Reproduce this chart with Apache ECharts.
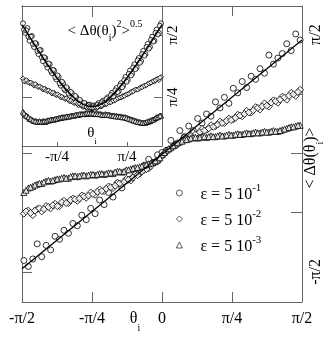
<!DOCTYPE html>
<html>
<head>
<meta charset="utf-8">
<title>theta_i</title>
<script src="https://cdn.jsdelivr.net/npm/echarts@6/dist/echarts.min.js"></script>
<style>
  html, body { margin: 0; padding: 0; background: #fff; }
  #chart { width: 332px; height: 341px; }
</style>
</head>
<body>
<div id="chart"></div>
<script>
var PI = Math.PI;

// x positions of the points (theta_i), two interleaved sets
var xs = [-1.55,-1.50,-1.45,-1.40,-1.35,-1.30,-1.25,-1.20,-1.15,-1.10,-1.05,-1.00,-0.95,-0.90,-0.85,-0.80,
  -0.75,-0.70,-0.65,-0.60,-0.55,-0.50,-0.45,-0.40,-0.35,-0.30,-0.25,-0.20,-0.15,-0.10,-0.05,0.00,
  0.05,0.10,0.15,0.20,0.25,0.30,0.35,0.40,0.45,0.50,0.55,0.60,0.65,0.70,0.75,0.80,
  0.85,0.90,0.95,1.00,1.05,1.10,1.15,1.20,1.25,1.30,1.35,1.40,1.45,1.50,1.55];
var xs2 = [-1.525,-1.475,-1.425,-1.375,-1.325,-1.275,-1.225,-1.175,-1.125,-1.075,-1.025,-0.975,-0.925,-0.875,-0.825,-0.775,
  -0.725,-0.675,-0.625,-0.575,-0.525,-0.475,-0.425,-0.375,-0.325,-0.275,-0.225,-0.175,-0.125,-0.075,-0.025,
  0.025,0.075,0.125,0.175,0.225,0.275,0.325,0.375,0.425,0.475,0.525,0.575,0.625,0.675,0.725,
  0.775,0.825,0.875,0.925,0.975,1.025,1.075,1.125,1.175,1.225,1.275,1.325,1.375,1.425,1.475,1.525];

// main plot  <dtheta(theta_i)>
var mainEps1 = [-1.42,-1.50,-1.40,-1.20,-1.37,-1.22,-1.28,-1.10,-1.14,-1.02,-1.06,-0.93,-0.96,-0.82,-0.88,-0.73,
  -0.80,-0.62,-0.68,-0.52,-0.58,-0.40,-0.46,-0.36,-0.34,-0.22,-0.26,-0.16,-0.08,-0.12,-0.02,0.01,
  0.04,0.17,0.10,0.30,0.22,0.36,0.30,0.46,0.40,0.52,0.49,0.68,0.60,0.74,0.66,0.86,
  0.80,0.95,0.87,1.02,0.98,1.12,1.06,1.30,1.18,1.26,1.32,1.45,1.36,1.58,1.50];
var mainEps2 = [-0.80,-0.76,-0.82,-0.74,-0.77,-0.70,-0.73,-0.67,-0.70,-0.63,-0.66,-0.60,-0.63,-0.56,-0.59,-0.52,
  -0.55,-0.48,-0.50,-0.44,-0.46,-0.39,-0.41,-0.34,-0.36,-0.28,-0.27,-0.22,-0.20,-0.13,-0.11,-0.03,
  0.02,0.06,0.12,0.14,0.21,0.20,0.27,0.26,0.32,0.31,0.37,0.36,0.42,0.40,0.46,0.45,
  0.51,0.49,0.56,0.54,0.61,0.58,0.66,0.62,0.70,0.67,0.75,0.71,0.80,0.76,0.84];
var mainEps2b = [-0.77,-0.79,-0.76,-0.73,-0.74,-0.71,-0.69,-0.70,-0.65,-0.66,-0.62,-0.61,-0.60,-0.57,-0.56,-0.54,
  -0.51,-0.50,-0.47,-0.45,-0.43,-0.40,-0.38,-0.35,-0.32,-0.29,-0.24,-0.21,-0.17,-0.12,-0.07,
  -0.01,0.05,0.09,0.13,0.17,0.19,0.23,0.25,0.28,0.30,0.33,0.35,0.38,0.40,0.43,
  0.44,0.47,0.50,0.52,0.54,0.57,0.60,0.62,0.63,0.67,0.69,0.71,0.74,0.76,0.78,0.81];
var mainEps3 = [-0.52,-0.46,-0.44,-0.41,-0.40,-0.37,-0.37,-0.35,-0.34,-0.32,-0.33,-0.30,-0.31,-0.29,-0.30,-0.28,
  -0.29,-0.27,-0.28,-0.26,-0.27,-0.24,-0.25,-0.22,-0.21,-0.19,-0.18,-0.16,-0.14,-0.12,-0.09,-0.02,
  0.04,0.08,0.12,0.15,0.18,0.19,0.21,0.20,0.22,0.21,0.23,0.22,0.24,0.23,0.25,0.24,
  0.26,0.25,0.27,0.26,0.28,0.27,0.29,0.28,0.30,0.29,0.31,0.33,0.35,0.36,0.37];
var mainEps3b = [-0.49,-0.45,-0.42,-0.40,-0.38,-0.36,-0.36,-0.34,-0.33,-0.33,-0.31,-0.30,-0.30,-0.29,-0.29,-0.28,
  -0.28,-0.27,-0.27,-0.26,-0.25,-0.24,-0.24,-0.22,-0.20,-0.19,-0.17,-0.15,-0.13,-0.10,-0.06,
  0.01,0.06,0.10,0.14,0.16,0.18,0.20,0.21,0.21,0.22,0.22,0.22,0.23,0.23,0.24,
  0.24,0.25,0.25,0.26,0.26,0.27,0.27,0.28,0.28,0.29,0.29,0.30,0.32,0.34,0.35,0.37];
var mainFitX = [-1.571, 1.571];
var mainFitY = [-1.53, 1.50];

// inset  <dtheta(theta_i)^2>^0.5
var insetEps1 = [1.72,1.60,1.66,1.50,1.56,1.42,1.46,1.33,1.38,1.24,1.28,1.16,1.20,1.09,1.12,1.01,
  1.04,0.93,0.96,0.87,0.89,0.80,0.83,0.75,0.78,0.70,0.73,0.67,0.70,0.65,0.69,0.64,
  0.68,0.65,0.71,0.67,0.74,0.70,0.78,0.75,0.84,0.80,0.90,0.86,0.96,0.93,1.04,1.00,
  1.12,1.08,1.20,1.16,1.28,1.24,1.37,1.33,1.46,1.42,1.55,1.50,1.64,1.60,1.72];
var insetEps1b = [1.64,1.63,1.55,1.55,1.46,1.47,1.37,1.38,1.29,1.29,1.20,1.21,1.12,1.13,1.04,1.06,
  0.96,0.98,0.89,0.91,0.83,0.85,0.77,0.80,0.72,0.75,0.69,0.71,0.66,0.68,0.65,
  0.67,0.66,0.69,0.68,0.72,0.71,0.76,0.74,0.81,0.79,0.87,0.85,0.93,0.91,1.00,
  0.98,1.08,1.06,1.16,1.14,1.25,1.22,1.33,1.31,1.42,1.40,1.51,1.49,1.60,1.58,1.69];
var insetEps2 = [1.02,0.98,0.99,0.96,0.96,0.93,0.94,0.91,0.91,0.88,0.89,0.86,0.86,0.83,0.84,0.81,
  0.81,0.78,0.78,0.76,0.76,0.73,0.73,0.71,0.71,0.68,0.69,0.66,0.67,0.65,0.66,0.64,
  0.66,0.65,0.67,0.67,0.69,0.69,0.71,0.72,0.73,0.74,0.76,0.77,0.78,0.80,0.81,0.82,
  0.84,0.85,0.87,0.88,0.89,0.91,0.92,0.93,0.95,0.96,0.98,0.98,1.01,1.00,1.04];
var insetEps2b = [0.99,1.00,0.97,0.97,0.95,0.95,0.92,0.92,0.90,0.89,0.87,0.87,0.85,0.84,0.82,0.82,
  0.80,0.79,0.77,0.77,0.75,0.74,0.72,0.72,0.70,0.70,0.68,0.67,0.66,0.66,0.65,
  0.65,0.66,0.66,0.68,0.68,0.70,0.70,0.72,0.72,0.74,0.75,0.77,0.78,0.79,0.80,
  0.82,0.83,0.85,0.86,0.88,0.88,0.90,0.91,0.93,0.94,0.96,0.97,0.99,1.00,1.02,1.03];
var insetEps3 = [0.60,0.56,0.54,0.51,0.50,0.48,0.48,0.47,0.47,0.48,0.47,0.49,0.49,0.50,0.50,0.51,
  0.52,0.52,0.53,0.53,0.54,0.54,0.55,0.55,0.56,0.56,0.57,0.57,0.58,0.57,0.58,0.58,
  0.57,0.58,0.57,0.57,0.56,0.57,0.56,0.56,0.55,0.55,0.55,0.54,0.54,0.53,0.53,0.52,
  0.51,0.50,0.49,0.48,0.47,0.46,0.46,0.46,0.47,0.48,0.50,0.51,0.53,0.54,0.55];
var insetEps3b = [0.58,0.55,0.53,0.51,0.49,0.48,0.47,0.48,0.47,0.48,0.48,0.49,0.50,0.50,0.51,0.51,
  0.52,0.53,0.53,0.54,0.54,0.55,0.55,0.56,0.56,0.57,0.57,0.57,0.58,0.58,0.58,
  0.58,0.57,0.57,0.57,0.56,0.56,0.56,0.56,0.55,0.55,0.54,0.54,0.54,0.53,0.53,
  0.52,0.51,0.50,0.49,0.48,0.47,0.47,0.46,0.46,0.47,0.48,0.49,0.50,0.52,0.53,0.55];
var insetFitX = [-1.57,-1.50,-1.40,-1.30,-1.20,-1.10,-1.00,-0.90,-0.80,-0.70,-0.60,-0.50,-0.40,-0.30,-0.20,-0.10,0.00,
  0.10,0.20,0.30,0.40,0.50,0.60,0.70,0.80,0.90,1.00,1.10,1.20,1.30,1.40,1.50,1.57];
var insetFitY = [1.70,1.64,1.55,1.46,1.37,1.285,1.20,1.12,1.04,0.964,0.894,0.831,0.775,0.728,0.693,0.671,0.663,
  0.671,0.693,0.728,0.775,0.831,0.894,0.964,1.04,1.12,1.20,1.285,1.37,1.46,1.55,1.64,1.70];

// tick values / labels
var piTicks = [-PI/2, -PI/4, 0, PI/4, PI/2];
var piLabels = ['-π/2', '-π/4', '0', 'π/4', 'π/2'];
var legendSup = ['-1', '-2', '-3'];
var seriesNames = ['eps1', 'eps2', 'eps3'];
var symbols = ['circle', 'diamond', 'triangle'];

function piLabel(v) {
  var k = Math.round(v / (PI / 4)) + 2;
  return piLabels[k] || '';
}
function pairs(xv, yv) {
  return xv.map(function (x, i) { return [x, yv[i]]; });
}

var FONT = 'Liberation Serif';
var chart = echarts.init(document.getElementById('chart'));

function axis(o) {
  var base = {
    min: -PI / 2, max: PI / 2,
    axisLine: { show: true, onZero: false, lineStyle: { color: '#666', width: 1 } },
    splitLine: { show: false },
    axisTick: { inside: true, length: 10, lineStyle: { color: '#666' } },
    axisLabel: { show: false, formatter: piLabel, color: '#000', fontFamily: FONT, fontSize: 16 }
  };
  for (var k in o) {
    if (typeof o[k] === 'object' && base[k] && !Array.isArray(o[k])) {
      for (var j in o[k]) base[k][j] = o[k][j];
    } else base[k] = o[k];
  }
  return base;
}

var mainData = [pairs(xs, mainEps1), pairs(xs, mainEps2).concat(pairs(xs2, mainEps2b)),
  pairs(xs, mainEps3).concat(pairs(xs2, mainEps3b))];
var insetData = [pairs(xs, insetEps1).concat(pairs(xs2, insetEps1b)),
  pairs(xs, insetEps2).concat(pairs(xs2, insetEps2b)),
  pairs(xs, insetEps3).concat(pairs(xs2, insetEps3b))];
var series = [];
mainData.forEach(function (d, i) {
  series.push({
    name: seriesNames[i], type: 'scatter', xAxisIndex: 0, yAxisIndex: 0,
    symbol: symbols[i], symbolSize: i === 1 ? 7 : 6,
    itemStyle: { color: '#fff', borderColor: '#000', borderWidth: 1 },
    data: d
  });
});
series.push({
  type: 'line', xAxisIndex: 0, yAxisIndex: 0, symbol: 'none', z: 3,
  lineStyle: { color: '#000', width: 1.3 }, data: pairs(mainFitX, mainFitY)
});
insetData.forEach(function (d, i) {
  series.push({
    name: seriesNames[i], type: 'scatter', xAxisIndex: 2, yAxisIndex: 2,
    symbol: symbols[i], symbolSize: 5,
    itemStyle: { color: '#fff', borderColor: '#000', borderWidth: 1 },
    data: d
  });
});
series.push({
  type: 'line', xAxisIndex: 2, yAxisIndex: 2, symbol: 'none', smooth: true, z: 3,
  lineStyle: { color: '#000', width: 1.3 }, data: pairs(insetFitX, insetFitY)
});

var option = {
  backgroundColor: '#fff',
  animation: false,
  grid: [
    { left: 22, top: 6, width: 280, height: 296 },
    { left: 22, top: 6, width: 140, height: 140, show: true, backgroundColor: '#fff', borderWidth: 0 }
  ],
  xAxis: [
    axis({ gridIndex: 0, position: 'bottom',
      axisTick: { customValues: piTicks.slice(1, 4) },
      axisLabel: { show: true, customValues: piTicks, margin: 9 } }),
    axis({ gridIndex: 0, position: 'top', axisTick: { customValues: [PI / 4] } }),
    axis({ gridIndex: 1, position: 'bottom',
      axisTick: { customValues: [-PI / 4, PI / 4], length: 4 },
      axisLabel: { show: true, customValues: [-PI / 4, PI / 4], margin: 4, fontSize: 15 } }),
    axis({ gridIndex: 1, position: 'top', axisTick: { customValues: [0], length: 11 } })
  ],
  yAxis: [
    axis({ gridIndex: 0, position: 'right', min: -1.97, max: 1.95,
      axisTick: { customValues: piTicks.slice(1, 4), length: 11 },
      axisLabel: { show: true, customValues: [-PI / 2, PI / 2], rotate: 90, margin: 6 } }),
    axis({ gridIndex: 0, position: 'left', min: -1.97, max: 1.95,
      axisTick: { customValues: [-PI / 2, -PI / 4, 0] } }),
    axis({ gridIndex: 1, position: 'left', min: 0.165, max: 1.94,
      axisTick: { customValues: [PI / 4] } }),
    axis({ gridIndex: 1, position: 'right', min: 0.165, max: 1.94,
      axisTick: { customValues: [PI / 4, PI / 2], length: 8 },
      axisLabel: { show: true, customValues: [PI / 4, PI / 2], rotate: 90, margin: 4, fontSize: 15 } })
  ],
  legend: {
    left: 171, top: 178, orient: 'vertical', itemGap: 6,
    itemWidth: 6, itemHeight: 6,
    data: seriesNames.map(function (n, i) { return { name: n, icon: symbols[i] }; }),
    itemStyle: { color: '#fff', borderColor: '#000', borderWidth: 0.8 },
    formatter: function (name) {
      var i = seriesNames.indexOf(name);
      return '{a|ε = 5 10}{s|' + legendSup[i] + '}';
    },
    textStyle: {
      color: '#000', fontFamily: FONT, fontSize: 16,
      rich: {
        a: { fontFamily: FONT, fontSize: 16, color: '#000', padding: [0, 0, 0, 13], lineHeight: 20, verticalAlign: 'bottom' },
        s: { fontFamily: FONT, fontSize: 11, color: '#000', verticalAlign: 'top', lineHeight: 20 }
      }
    }
  },
  graphic: [
    { type: 'text', x: 135, y: 322, z: 100,
      style: { text: '{t|θ}{s|i}', align: 'center', verticalAlign: 'middle',
        rich: { t: { fontFamily: FONT, fontSize: 16, fill: '#000', lineHeight: 22, verticalAlign: 'top' },
                s: { fontFamily: FONT, fontSize: 10, fill: '#000', verticalAlign: 'bottom', lineHeight: 22 } } } },
    { type: 'text', x: 314, y: 158, rotation: PI / 2, z: 100,
      style: { text: '{n|< Δθ(θ}{s|i}{n|)>}', align: 'center', verticalAlign: 'middle',
        rich: { n: { fontFamily: FONT, fontSize: 16, fill: '#000', lineHeight: 22, verticalAlign: 'top' },
                s: { fontFamily: FONT, fontSize: 10, fill: '#000', verticalAlign: 'bottom', lineHeight: 22 } } } },
    { type: 'text', x: 105, y: 31, z: 100,
      style: { text: '{n|< Δθ(θ}{s|i}{n|)}{p|2}{n|>}{p|0.5}', align: 'center', verticalAlign: 'middle',
        rich: { n: { fontFamily: FONT, fontSize: 15, fill: '#000', lineHeight: 24, verticalAlign: 'middle' },
                s: { fontFamily: FONT, fontSize: 10, fill: '#000', verticalAlign: 'bottom', lineHeight: 24 },
                p: { fontFamily: FONT, fontSize: 10, fill: '#000', verticalAlign: 'top', lineHeight: 24 } } } },
    { type: 'text', x: 92, y: 136, z: 100,
      style: { text: '{t|θ}{s|i}', align: 'center', verticalAlign: 'middle',
        rich: { t: { fontFamily: FONT, fontSize: 15, fill: '#000', lineHeight: 20, verticalAlign: 'top' },
                s: { fontFamily: FONT, fontSize: 9, fill: '#000', verticalAlign: 'bottom', lineHeight: 20 } } } }
  ],
  series: series
};
chart.setOption(option);
</script>
</body>
</html>
